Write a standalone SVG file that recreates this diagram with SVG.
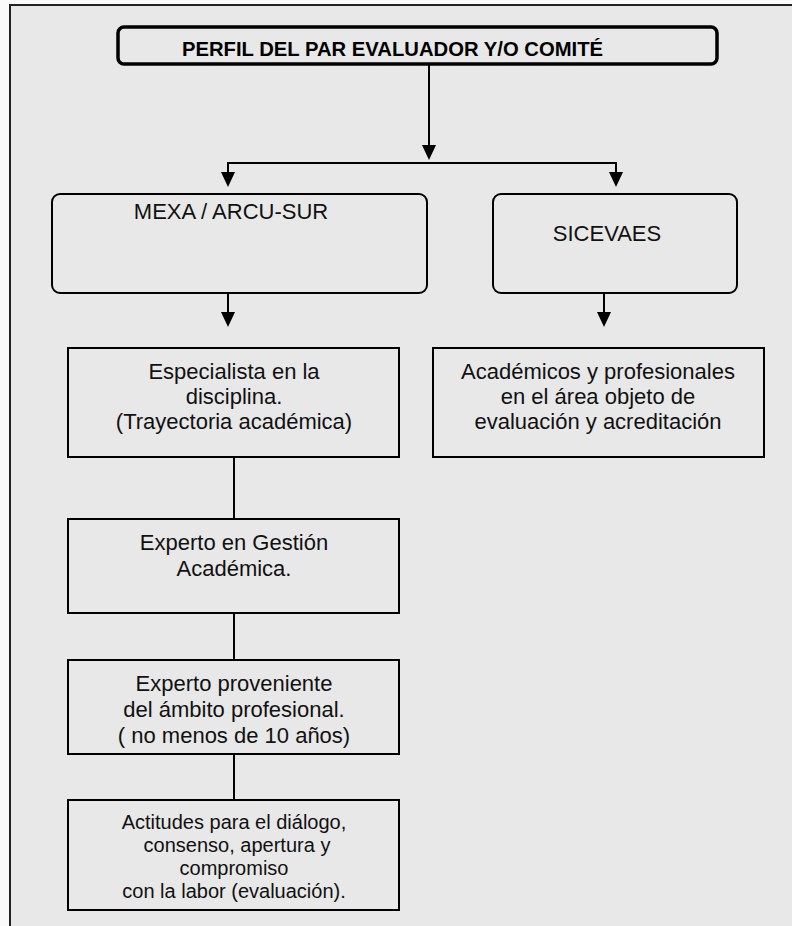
<svg xmlns="http://www.w3.org/2000/svg" width="792" height="926" viewBox="0 0 792 926">
<style>
.box{fill:none;stroke:#000;stroke-width:2}
.rbox{fill:none;stroke:#000;stroke-width:2}
.ln{stroke:#000;stroke-width:2;fill:none}
.ah{fill:#000}
.t{font-family:"Liberation Sans",Arial,sans-serif;font-size:22px;fill:#111;text-anchor:middle}
.ts{font-family:"Liberation Sans",Arial,sans-serif;font-size:20px;fill:#111;text-anchor:middle}
.tb{font-family:"Liberation Sans",Arial,sans-serif;font-size:20px;font-weight:bold;fill:#000}
</style>
<defs>
<clipPath id="clipAct"><rect x="60" y="800" width="350" height="104"/></clipPath>
</defs>
<rect x="0" y="0" width="792" height="926" fill="#fafafa"/>
<rect x="10" y="5" width="800" height="940" fill="#e8e8e8" stroke="#222" stroke-width="2"/>

<g id="title">
<rect x="118" y="27" width="599" height="37" rx="6" fill="none" stroke="#000" stroke-width="3.5"/>
<text class="tb" x="182" y="56" textLength="421" lengthAdjust="spacingAndGlyphs">PERFIL DEL PAR EVALUADOR Y/O COMITÉ</text>
</g>

<g id="mexa">
<rect class="rbox" x="52" y="194" width="375" height="99" rx="8"/>
<text class="t" x="231" y="219">MEXA / ARCU-SUR</text>
</g>

<g id="sicevaes">
<rect class="rbox" x="493" y="194" width="244" height="99" rx="8"/>
<text class="t" x="607" y="241">SICEVAES</text>
</g>

<g id="especialista">
<rect class="box" x="68" y="348" width="331" height="109"/>
<text class="t" x="234" y="379">Especialista en la</text>
<text class="t" x="234" y="404">disciplina.</text>
<text class="t" x="234" y="429">(Trayectoria académica)</text>
</g>

<g id="academicos">
<rect class="box" x="433" y="348" width="331" height="109"/>
<text class="t" x="598" y="379">Académicos y profesionales</text>
<text class="t" x="598" y="404">en el área objeto de</text>
<text class="t" x="598" y="429">evaluación y acreditación</text>
</g>

<g id="gestion">
<rect class="box" x="68" y="519" width="331" height="94"/>
<text class="t" x="234" y="550">Experto en Gestión</text>
<text class="t" x="234" y="576">Académica.</text>
</g>

<g id="profesional">
<rect class="box" x="68" y="660" width="331" height="94"/>
<text class="t" x="234" y="691">Experto proveniente</text>
<text class="t" x="234" y="717">del ámbito profesional.</text>
<text class="t" x="234" y="743">( no menos de 10 años)</text>
</g>

<g id="actitudes">
<rect class="box" x="68" y="800" width="331" height="110"/>
<g clip-path="url(#clipAct)">
<text class="ts" x="234" y="829">Actitudes para el diálogo,</text>
<text class="ts" x="237" y="852">consenso, apertura y</text>
<text class="ts" x="234" y="875">compromiso</text>
<text class="ts" x="234" y="898">con la labor (evaluación).</text>
</g>
</g>

<g id="connectors">
<line class="ln" x1="429" y1="64" x2="429" y2="147"/>
<polygon class="ah" points="422,145 436,145 429,160"/>
<polyline class="ln" points="228,174 228,163 616,163 616,174"/>
<polygon class="ah" points="221,172 235,172 228,187"/>
<polygon class="ah" points="609,172 623,172 616,187"/>
<line class="ln" x1="228" y1="293" x2="228" y2="314"/>
<polygon class="ah" points="221,312 235,312 228,327"/>
<line class="ln" x1="604" y1="293" x2="604" y2="314"/>
<polygon class="ah" points="597,312 611,312 604,327"/>
<line class="ln" x1="234" y1="457" x2="234" y2="519"/>
<line class="ln" x1="234" y1="613" x2="234" y2="660"/>
<line class="ln" x1="234" y1="754" x2="234" y2="800"/>
</g>
</svg>
